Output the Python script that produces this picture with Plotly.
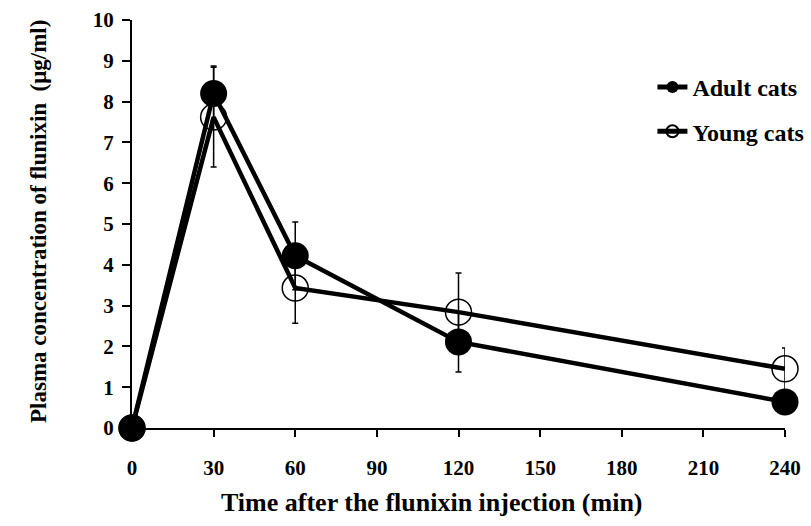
import plotly.graph_objects as go

time_min = [0, 30, 60, 120, 240]
adult_mean = [0, 8.2, 4.22, 2.11, 0.64]
adult_sd = [0, 0.67, 0.83, 0.74, 0.2]
young_mean = [0, 7.62, 3.43, 2.84, 1.45]
young_sd = [0, 1.22, 0.86, 0.96, 0.51]
x_ticks = [0, 30, 60, 90, 120, 150, 180, 210, 240]
y_ticks = list(range(0, 11))

FONT = "Liberation Serif"

fig = go.Figure()
fig.add_trace(go.Scatter(
    x=time_min, y=young_mean, name="Young cats", mode="lines+markers",
    line=dict(color="black", width=4.5),
    marker=dict(symbol="circle", size=26, color="rgba(0,0,0,0)",
                line=dict(color="black", width=1.5)),
    error_y=dict(type="data", array=young_sd, visible=True, color="black",
                 thickness=1.5, width=3),
    cliponaxis=False, legendgroup="y", legendrank=2,
))
fig.add_trace(go.Scatter(
    x=time_min, y=adult_mean, name="Adult cats", mode="lines+markers",
    line=dict(color="black", width=4.5),
    marker=dict(symbol="circle", size=27, color="black",
                line=dict(color="black", width=0)),
    error_y=dict(type="data", array=adult_sd, visible=True, color="black",
                 thickness=1.5, width=3),
    cliponaxis=False, legendgroup="a", legendrank=1,
))

axis_font = dict(family=FONT, size=21, color="black", weight="bold")

# plot area spans x 132..785, y 20..428 on screen
fig.update_layout(
    width=811, height=526,
    margin=dict(l=132, r=26, t=20, b=98, autoexpand=False),
    paper_bgcolor="white", plot_bgcolor="white",
    font=dict(family=FONT, color="black"),
    showlegend=True,
    legend=dict(
        x=0.797, y=0.89, xanchor="left", yanchor="top",
        font=dict(family=FONT, size=24, color="black", weight="bold"),
        bgcolor="rgba(0,0,0,0)", traceorder="grouped", tracegroupgap=10,
        itemsizing="constant",
    ),
    xaxis=dict(
        range=[0, 240], tickmode="array", tickvals=x_ticks,
        ticktext=[str(v) for v in x_ticks],
        showgrid=False, zeroline=False, showline=True, linecolor="black",
        linewidth=2, ticks="outside", ticklen=7, tickwidth=2, tickcolor="black",
        tickfont=axis_font, ticklabelstandoff=13,
    ),
    yaxis=dict(
        range=[0, 10], tickmode="array", tickvals=y_ticks,
        ticktext=[str(v) for v in y_ticks],
        showgrid=False, zeroline=False, showline=True, linecolor="black",
        linewidth=2, ticks="outside", ticklen=8, tickwidth=2, tickcolor="black",
        tickfont=axis_font, ticklabelstandoff=4,
    ),
    annotations=[
        dict(text="Time after the flunixin injection (min)", xref="paper",
             yref="paper", x=(432 - 132) / 653, y=-(502 - 428) / 408,
             xanchor="center", yanchor="middle", showarrow=False,
             font=dict(family=FONT, size=26, color="black", weight="bold")),
        dict(text="Plasma concentration of flunixin  (μg/ml)", xref="paper",
             yref="paper", x=-(132 - 38) / 653, y=(428 - 222) / 408,
             xanchor="center", yanchor="middle", showarrow=False, textangle=-90,
             font=dict(family=FONT, size=23, color="black", weight="bold")),
    ],
)

fig.write_html(
    "out.html",
    config={"displayModeBar": False},
    post_script="document.body.style.margin='0';document.body.style.overflow='hidden';",
)
